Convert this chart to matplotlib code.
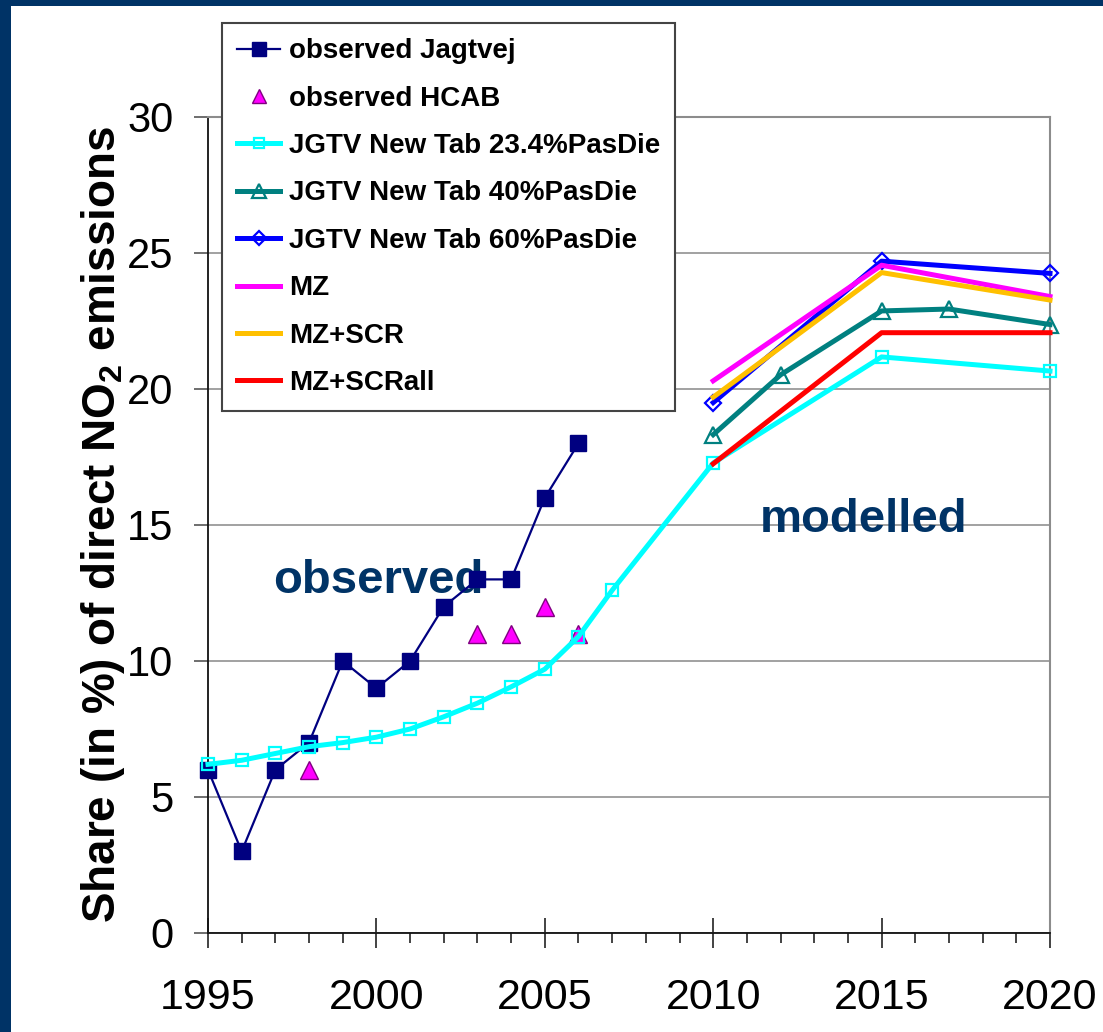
import matplotlib
matplotlib.use("Agg")
import matplotlib.pyplot as plt
from matplotlib.patches import Rectangle
from matplotlib.ticker import MultipleLocator

plt.rcParams['font.family'] = ['Liberation Sans', 'DejaVu Sans']
plt.rcParams['mathtext.default'] = 'regular'

# Observed shares
years_jagtvej = [1995, 1996, 1997, 1998, 1999, 2000, 2001, 2002, 2003, 2004, 2005, 2006]
obs_jagtvej = [6.0, 3.0, 6.0, 7.0, 10.0, 9.0, 10.0, 12.0, 13.0, 13.0, 16.0, 18.0]

years_hcab = [1998, 2003, 2004, 2005, 2006]
obs_hcab = [6.0, 11.0, 11.0, 12.0, 11.0]

# Modelled shares
years_234 = [1995, 1996, 1997, 1998, 1999, 2000, 2001, 2002, 2003, 2004, 2005, 2006, 2007, 2010, 2015, 2020]
jgtv_234 = [6.2, 6.35, 6.6, 6.85, 7.0, 7.2, 7.5, 7.95, 8.45, 9.05, 9.7, 10.9, 12.6, 17.28, 21.18, 20.66]

years_40 = [2010, 2012, 2015, 2017, 2020]
jgtv_40 = [18.32, 20.52, 22.87, 22.94, 22.37]

years_60 = [2010, 2015, 2020]
jgtv_60 = [19.5, 24.7, 24.25]

years_mz = [2010, 2015, 2020]
mz = [20.3, 24.55, 23.4]
mz_scr = [19.7, 24.28, 23.27]
mz_scrall = [17.25, 22.07, 22.07]

labels = ["observed Jagtvej", "observed HCAB", "JGTV New Tab 23.4%PasDie",
          "JGTV New Tab 40%PasDie", "JGTV New Tab 60%PasDie", "MZ", "MZ+SCR", "MZ+SCRall"]

navy_text = '#003366'

fig = plt.figure(figsize=(11.03, 10.32), dpi=100)
fig.patch.set_facecolor('white')

# dark frame bands along the top and left edges
fig.patches.append(Rectangle((0, 1 - 6 / 1032), 1, 6 / 1032, transform=fig.transFigure,
                             facecolor=navy_text, edgecolor='none', zorder=0))
fig.patches.append(Rectangle((0, 0), 11 / 1103, 1, transform=fig.transFigure,
                             facecolor=navy_text, edgecolor='none', zorder=0))

ax = fig.add_axes([208 / 1103, 1 - 933 / 1032, (1050 - 208) / 1103, (933 - 117) / 1032])

h1, = ax.plot(years_jagtvej, obs_jagtvej, color='#000080', lw=1.6, marker='s', ms=11.5,
              mfc='#000080', mec='#000080', label=labels[0], zorder=3, clip_on=False)
h2, = ax.plot(years_hcab, obs_hcab, ls='none', marker='^', ms=12.5,
              mfc='#FF00FF', mec='#800080', mew=1.0, label=labels[1], zorder=3, clip_on=False)
h3, = ax.plot(years_234, jgtv_234, color='#00FFFF', lw=3.6, marker='s', ms=9,
              mfc='none', mec='#00FFFF', mew=1.6, label=labels[2], zorder=4, clip_on=False)
h4, = ax.plot(years_40, jgtv_40, color='#008080', lw=3.6, marker='^', ms=12,
              mfc='none', mec='#008080', mew=1.6, label=labels[3], zorder=4, clip_on=False)
h5, = ax.plot(years_60, jgtv_60, color='#0000FF', lw=3.6, marker='D', ms=8.5,
              mfc='none', mec='#0000FF', mew=1.6, label=labels[4], zorder=4, clip_on=False)
h6, = ax.plot(years_mz, mz, color='#FF00FF', lw=3.6, label=labels[5], zorder=4, clip_on=False)
h7, = ax.plot(years_mz, mz_scr, color='#FFC000', lw=3.6, label=labels[6], zorder=4, clip_on=False)
h8, = ax.plot(years_mz, mz_scrall, color='#FF0000', lw=3.6, label=labels[7], zorder=4, clip_on=False)

ax.set_xlim(1995, 2020)
ax.set_ylim(0, 30)
ax.xaxis.set_major_locator(MultipleLocator(5))
ax.xaxis.set_minor_locator(MultipleLocator(1))
ax.yaxis.set_major_locator(MultipleLocator(5))

ax.grid(axis='y', color='#9a9a9a', lw=1.3, zorder=1)
ax.set_axisbelow(True)

for side in ('top', 'right'):
    ax.spines[side].set_color('#8c8c8c')
    ax.spines[side].set_linewidth(1.5)
for side in ('left', 'bottom'):
    ax.spines[side].set_color('#111111')
    ax.spines[side].set_linewidth(1.3)

ax.tick_params(axis='y', which='major', direction='out', length=10, width=1.2,
               color='#555555', labelsize=30, pad=15)
ax.tick_params(axis='x', which='major', direction='inout', length=21, width=1.2,
               color='#222222', labelsize=31, pad=22)
ax.tick_params(axis='x', which='minor', direction='out', length=7, width=1.2,
               color='#222222')

fig.text(103 / 1103, 1 - 524 / 1032, "Share (in %) of direct NO$_2$ emissions",
         rotation=90, ha='center', va='center', fontsize=33, fontweight='bold')

ax.text(2000.05, 12.95, "observed", color=navy_text, fontsize=34, fontweight='bold',
        ha='center', va='center', zorder=2)
ax.text(2014.45, 15.2, "modelled", color=navy_text, fontsize=34, fontweight='bold',
        ha='center', va='center', zorder=2)

leg = fig.legend(handles=[h1, h2, h3, h4, h5, h6, h7, h8], loc='upper left',
                 bbox_to_anchor=(222 / 1103, 1 - 23 / 1032), bbox_transform=fig.transFigure,
                 prop={'size': 20, 'weight': 'bold'}, numpoints=1, handlelength=1.55,
                 handletextpad=0.3, labelspacing=0.77, borderpad=0.55, borderaxespad=0,
                 fancybox=False, frameon=True, markerscale=0.85)
leg.get_frame().set_edgecolor('#444444')
leg.get_frame().set_linewidth(1.5)
leg.get_frame().set_facecolor('white')
leg.get_frame().set_alpha(1)

fig.savefig("out.png", dpi=100, facecolor='white')
